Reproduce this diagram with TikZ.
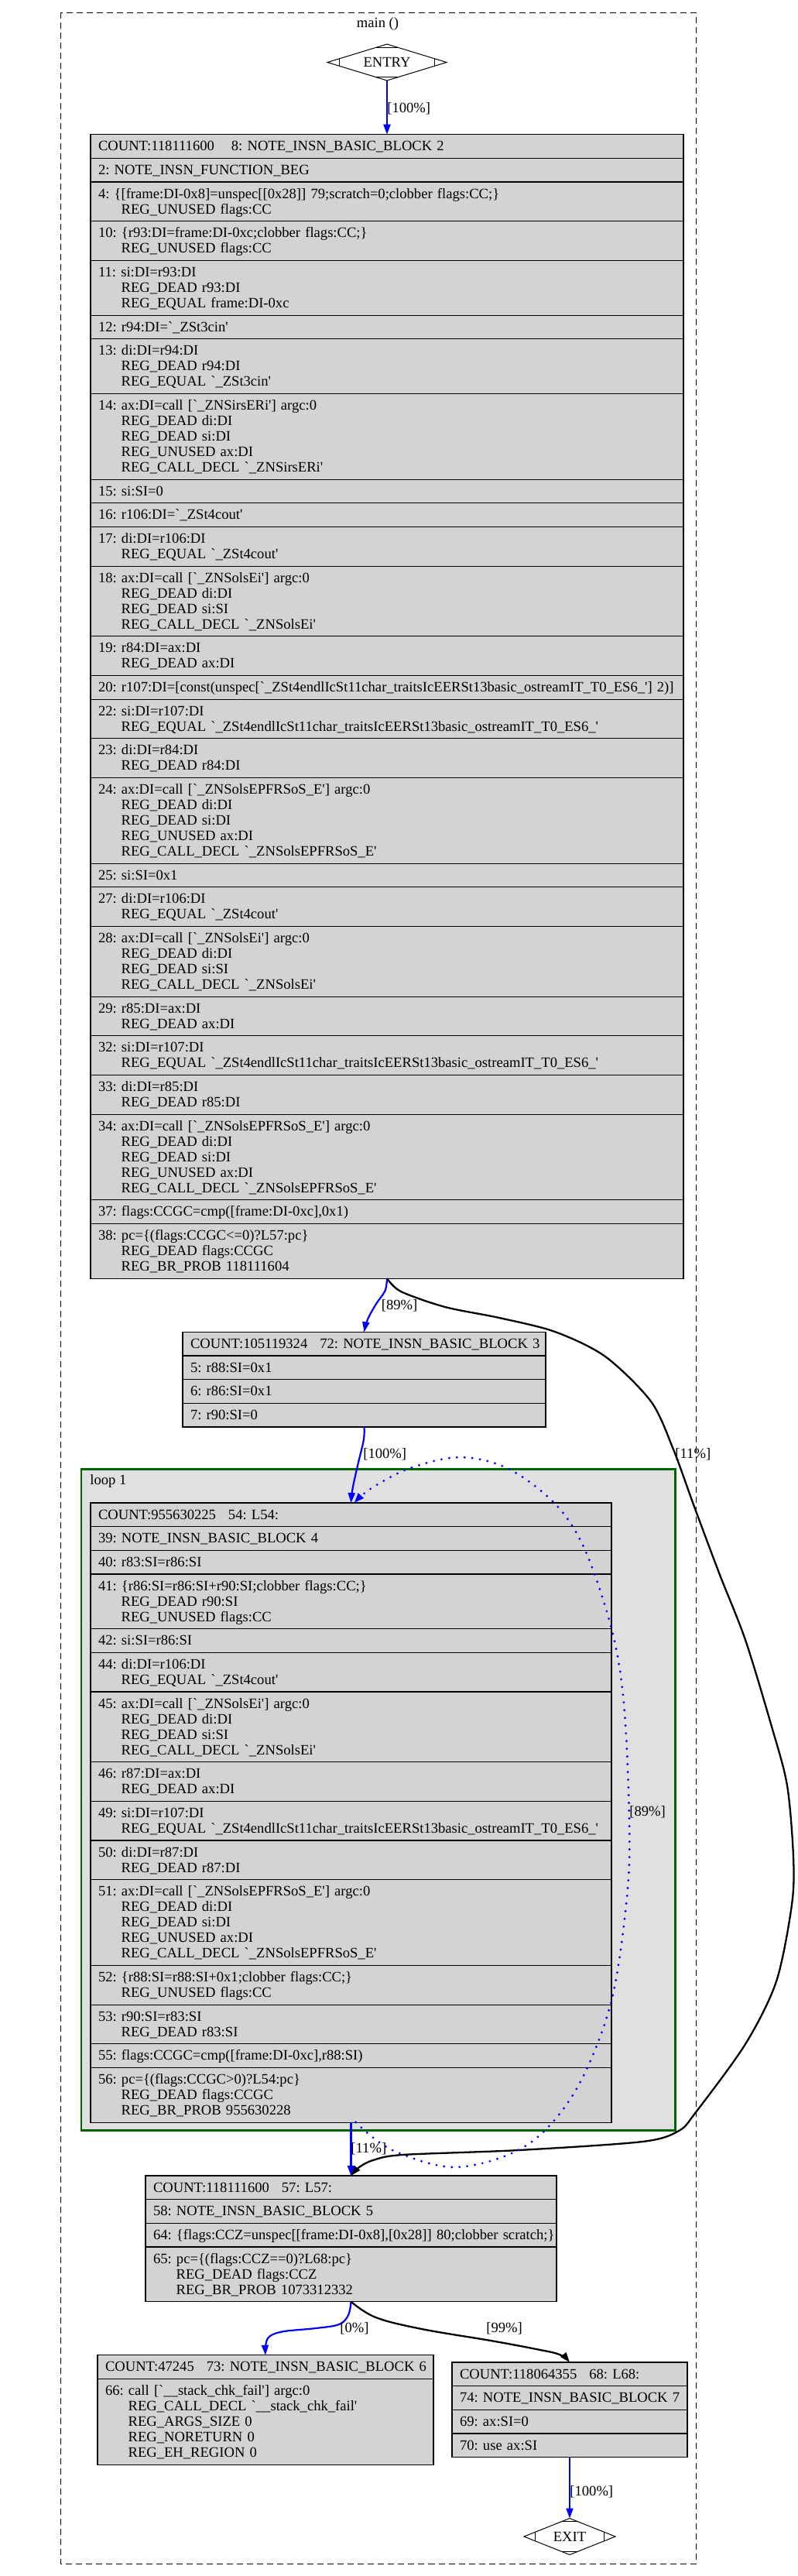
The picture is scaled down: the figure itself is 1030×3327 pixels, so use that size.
\documentclass[tikz,border=0pt]{standalone}
\usepackage{fontspec}
\setmainfont{Liberation Serif}[Ligatures=TeXOff]
\usetikzlibrary{shapes.geometric,arrows.meta,calc}
\definecolor{recgray}{HTML}{D3D3D3}
\definecolor{loopgray}{HTML}{E0E0E0}
\definecolor{loopgreen}{HTML}{006400}
\definecolor{edgeblue}{HTML}{0000FF}
\newcommand\gvfont{\fontsize{9.3}{10}\selectfont\frenchspacing}
\newcommand\gvstrut{\rule[-2.125pt]{0pt}{10pt}}
\newcommand\Lf[1]{\gvstrut\mbox{#1}}
\newcommand\Lm[1]{\\\gvstrut\hspace*{14.8pt}\mbox{#1}}
\tikzset{
  row/.style={draw=black, fill=recgray, line width=0.55pt, inner xsep=5pt, inner ysep=2.667pt, outer sep=0pt, align=left, anchor=north, font=\gvfont},
  wB/.style={text width=373pt}, wC/.style={text width=224.5pt}, wD/.style={text width=326.5pt},
  wE/.style={text width=255.5pt}, wF/.style={text width=207pt}, wG/.style={text width=142pt},
  tip/.style={-{Triangle[length=6.5pt,width=4.5pt]}},
  bedge/.style={draw=edgeblue, line width=1.1pt, tip},
  kedge/.style={draw=black, line width=1.15pt, tip},
  dedge/.style={draw=edgeblue, line width=1.6pt, dash pattern=on 0pt off 5pt, line cap=round, tip},
  lbl/.style={font=\gvfont, inner sep=0pt, anchor=west},
  dia/.style={diamond, draw=black, line width=0.5pt, aspect=3.3, inner sep=0pt, outer sep=0pt, font=\gvfont, minimum height=23.5pt},
  ticks/.style={draw=black, line width=0.5pt},
}
\begin{document}
\begin{tikzpicture}[x=0.5pt,y=-0.5pt]
\path[use as bounding box, fill=white] (0,0) rectangle (1030,3327);
% outer cluster
\draw[black, line width=0.5pt, dash pattern=on 4pt off 2.5pt] (78.5,16) rectangle (899,3311);
\node[font=\gvfont, inner sep=0pt] (mainlbl) at (488,31) {main ()};
% loop cluster
\draw[fill=loopgray, draw=loopgreen, line width=1.25pt] (105,1897.7) rectangle (872.5,2751.7);
\node[lbl] (looplbl) at (116,1913) {loop 1};

% ENTRY / EXIT
\node[dia, minimum width=77pt] (entry) at (500,80.5) {ENTRY};
\node[dia, minimum width=59pt] (exit) at (736,3276) {EXIT};
\foreach \n/\fh in {entry/0.195, exit/0.25} {
  \draw[ticks] ($(\n.north)!0.18!(\n.west)$) -- ($(\n.north)!0.18!(\n.east)$);
  \draw[ticks] ($(\n.south)!0.18!(\n.west)$) -- ($(\n.south)!0.18!(\n.east)$);
  \draw[ticks] ($(\n.west)!\fh!(\n.north)$) -- ($(\n.west)!\fh!(\n.south)$);
  \draw[ticks] ($(\n.east)!\fh!(\n.north)$) -- ($(\n.east)!\fh!(\n.south)$);
}

% block 2
\node[row,wB] (b2r1) at (500,173.7) {\Lf{COUNT:118111600\hspace{11pt}8: NOTE\_INSN\_BASIC\_BLOCK 2}};
\node[row,wB] (b2r2) at (b2r1.south) {\Lf{2: NOTE\_INSN\_FUNCTION\_BEG}};
\node[row,wB] (b2r3) at (b2r2.south) {\Lf{4: \{[frame:DI-0x8]=unspec[[0x28]] 79;scratch=0;clobber flags:CC;\}}\Lm{REG\_UNUSED flags:CC}};
\node[row,wB] (b2r4) at (b2r3.south) {\Lf{10: \{r93:DI=frame:DI-0xc;clobber flags:CC;\}}\Lm{REG\_UNUSED flags:CC}};
\node[row,wB] (b2r5) at (b2r4.south) {\Lf{11: si:DI=r93:DI}\Lm{REG\_DEAD r93:DI}\Lm{REG\_EQUAL frame:DI-0xc}};
\node[row,wB] (b2r6) at (b2r5.south) {\Lf{12: r94:DI=`\_ZSt3cin'}};
\node[row,wB] (b2r7) at (b2r6.south) {\Lf{13: di:DI=r94:DI}\Lm{REG\_DEAD r94:DI}\Lm{REG\_EQUAL `\_ZSt3cin'}};
\node[row,wB] (b2r8) at (b2r7.south) {\Lf{14: ax:DI=call [`\_ZNSirsERi'] argc:0}\Lm{REG\_DEAD di:DI}\Lm{REG\_DEAD si:DI}\Lm{REG\_UNUSED ax:DI}\Lm{REG\_CALL\_DECL `\_ZNSirsERi'}};
\node[row,wB] (b2r9) at (b2r8.south) {\Lf{15: si:SI=0}};
\node[row,wB] (b2r10) at (b2r9.south) {\Lf{16: r106:DI=`\_ZSt4cout'}};
\node[row,wB] (b2r11) at (b2r10.south) {\Lf{17: di:DI=r106:DI}\Lm{REG\_EQUAL `\_ZSt4cout'}};
\node[row,wB] (b2r12) at (b2r11.south) {\Lf{18: ax:DI=call [`\_ZNSolsEi'] argc:0}\Lm{REG\_DEAD di:DI}\Lm{REG\_DEAD si:SI}\Lm{REG\_CALL\_DECL `\_ZNSolsEi'}};
\node[row,wB] (b2r13) at (b2r12.south) {\Lf{19: r84:DI=ax:DI}\Lm{REG\_DEAD ax:DI}};
\node[row,wB] (b2r14) at (b2r13.south) {\Lf{20: r107:DI=[const(unspec[`\_ZSt4endlIcSt11char\_traitsIcEERSt13basic\_ostreamIT\_T0\_ES6\_'] 2)]}};
\node[row,wB] (b2r15) at (b2r14.south) {\Lf{22: si:DI=r107:DI}\Lm{REG\_EQUAL `\_ZSt4endlIcSt11char\_traitsIcEERSt13basic\_ostreamIT\_T0\_ES6\_'}};
\node[row,wB] (b2r16) at (b2r15.south) {\Lf{23: di:DI=r84:DI}\Lm{REG\_DEAD r84:DI}};
\node[row,wB] (b2r17) at (b2r16.south) {\Lf{24: ax:DI=call [`\_ZNSolsEPFRSoS\_E'] argc:0}\Lm{REG\_DEAD di:DI}\Lm{REG\_DEAD si:DI}\Lm{REG\_UNUSED ax:DI}\Lm{REG\_CALL\_DECL `\_ZNSolsEPFRSoS\_E'}};
\node[row,wB] (b2r18) at (b2r17.south) {\Lf{25: si:SI=0x1}};
\node[row,wB] (b2r19) at (b2r18.south) {\Lf{27: di:DI=r106:DI}\Lm{REG\_EQUAL `\_ZSt4cout'}};
\node[row,wB] (b2r20) at (b2r19.south) {\Lf{28: ax:DI=call [`\_ZNSolsEi'] argc:0}\Lm{REG\_DEAD di:DI}\Lm{REG\_DEAD si:SI}\Lm{REG\_CALL\_DECL `\_ZNSolsEi'}};
\node[row,wB] (b2r21) at (b2r20.south) {\Lf{29: r85:DI=ax:DI}\Lm{REG\_DEAD ax:DI}};
\node[row,wB] (b2r22) at (b2r21.south) {\Lf{32: si:DI=r107:DI}\Lm{REG\_EQUAL `\_ZSt4endlIcSt11char\_traitsIcEERSt13basic\_ostreamIT\_T0\_ES6\_'}};
\node[row,wB] (b2r23) at (b2r22.south) {\Lf{33: di:DI=r85:DI}\Lm{REG\_DEAD r85:DI}};
\node[row,wB] (b2r24) at (b2r23.south) {\Lf{34: ax:DI=call [`\_ZNSolsEPFRSoS\_E'] argc:0}\Lm{REG\_DEAD di:DI}\Lm{REG\_DEAD si:DI}\Lm{REG\_UNUSED ax:DI}\Lm{REG\_CALL\_DECL `\_ZNSolsEPFRSoS\_E'}};
\node[row,wB] (b2r25) at (b2r24.south) {\Lf{37: flags:CCGC=cmp([frame:DI-0xc],0x1)}};
\node[row,wB] (b2r26) at (b2r25.south) {\Lf{38: pc=\{(flags:CCGC<=0)?L57:pc\}}\Lm{REG\_DEAD flags:CCGC}\Lm{REG\_BR\_PROB 118111604}};

% block 3
\node[row,wC] (b3r1) at (470.5,1720.3) {\Lf{COUNT:105119324\hspace{8pt}72: NOTE\_INSN\_BASIC\_BLOCK 3}};
\node[row,wC] (b3r2) at (b3r1.south) {\Lf{5: r88:SI=0x1}};
\node[row,wC] (b3r3) at (b3r2.south) {\Lf{6: r86:SI=0x1}};
\node[row,wC] (b3r4) at (b3r3.south) {\Lf{7: r90:SI=0}};

% block 4
\node[row,wD] (b4r1) at (453.5,1941) {\Lf{COUNT:955630225\hspace{8pt}54: L54:}};
\node[row,wD] (b4r2) at (b4r1.south) {\Lf{39: NOTE\_INSN\_BASIC\_BLOCK 4}};
\node[row,wD] (b4r3) at (b4r2.south) {\Lf{40: r83:SI=r86:SI}};
\node[row,wD] (b4r4) at (b4r3.south) {\Lf{41: \{r86:SI=r86:SI+r90:SI;clobber flags:CC;\}}\Lm{REG\_DEAD r90:SI}\Lm{REG\_UNUSED flags:CC}};
\node[row,wD] (b4r5) at (b4r4.south) {\Lf{42: si:SI=r86:SI}};
\node[row,wD] (b4r6) at (b4r5.south) {\Lf{44: di:DI=r106:DI}\Lm{REG\_EQUAL `\_ZSt4cout'}};
\node[row,wD] (b4r7) at (b4r6.south) {\Lf{45: ax:DI=call [`\_ZNSolsEi'] argc:0}\Lm{REG\_DEAD di:DI}\Lm{REG\_DEAD si:SI}\Lm{REG\_CALL\_DECL `\_ZNSolsEi'}};
\node[row,wD] (b4r8) at (b4r7.south) {\Lf{46: r87:DI=ax:DI}\Lm{REG\_DEAD ax:DI}};
\node[row,wD] (b4r9) at (b4r8.south) {\Lf{49: si:DI=r107:DI}\Lm{REG\_EQUAL `\_ZSt4endlIcSt11char\_traitsIcEERSt13basic\_ostreamIT\_T0\_ES6\_'}};
\node[row,wD] (b4r10) at (b4r9.south) {\Lf{50: di:DI=r87:DI}\Lm{REG\_DEAD r87:DI}};
\node[row,wD] (b4r11) at (b4r10.south) {\Lf{51: ax:DI=call [`\_ZNSolsEPFRSoS\_E'] argc:0}\Lm{REG\_DEAD di:DI}\Lm{REG\_DEAD si:DI}\Lm{REG\_UNUSED ax:DI}\Lm{REG\_CALL\_DECL `\_ZNSolsEPFRSoS\_E'}};
\node[row,wD] (b4r12) at (b4r11.south) {\Lf{52: \{r88:SI=r88:SI+0x1;clobber flags:CC;\}}\Lm{REG\_UNUSED flags:CC}};
\node[row,wD] (b4r13) at (b4r12.south) {\Lf{53: r90:SI=r83:SI}\Lm{REG\_DEAD r83:SI}};
\node[row,wD] (b4r14) at (b4r13.south) {\Lf{55: flags:CCGC=cmp([frame:DI-0xc],r88:SI)}};
\node[row,wD] (b4r15) at (b4r14.south) {\Lf{56: pc=\{(flags:CCGC>0)?L54:pc\}}\Lm{REG\_DEAD flags:CCGC}\Lm{REG\_BR\_PROB 955630228}};

% block 5
\node[row,wE] (b5r1) at (453.5,2810) {\Lf{COUNT:118111600\hspace{8pt}57: L57:}};
\node[row,wE] (b5r2) at (b5r1.south) {\Lf{58: NOTE\_INSN\_BASIC\_BLOCK 5}};
\node[row,wE] (b5r3) at (b5r2.south) {\Lf{64: \{flags:CCZ=unspec[[frame:DI-0x8],[0x28]] 80;clobber scratch;\}}};
\node[row,wE] (b5r4) at (b5r3.south) {\Lf{65: pc=\{(flags:CCZ==0)?L68:pc\}}\Lm{REG\_DEAD flags:CCZ}\Lm{REG\_BR\_PROB 1073312332}};

% block 6
\node[row,wF] (b6r1) at (343,3041.7) {\Lf{COUNT:47245\hspace{8pt}73: NOTE\_INSN\_BASIC\_BLOCK 6}};
\node[row,wF] (b6r2) at (b6r1.south) {\Lf{66: call [`\_\_stack\_chk\_fail'] argc:0}\Lm{REG\_CALL\_DECL `\_\_stack\_chk\_fail'}\Lm{REG\_ARGS\_SIZE 0}\Lm{REG\_NORETURN 0}\Lm{REG\_EH\_REGION 0}};

% block 7
\node[row,wG] (b7r1) at (736,3051) {\Lf{COUNT:118064355\hspace{8pt}68: L68:}};
\node[row,wG] (b7r2) at (b7r1.south) {\Lf{74: NOTE\_INSN\_BASIC\_BLOCK 7}};
\node[row,wG] (b7r3) at (b7r2.south) {\Lf{69: ax:SI=0}};
\node[row,wG] (b7r4) at (b7r3.south) {\Lf{70: use ax:SI}};

% edges
\draw[bedge] (entry.south) -- (b2r1.north);
\draw[bedge] plot[smooth, tension=0.6] coordinates {(b2r26.south) (497.5,1667) (486,1684) (475,1704) (b3r1.north)};
\draw[kedge] plot[smooth, tension=0.5] coordinates {(b2r26.south) (518,1668) (575,1688) (645,1702) (717,1720) (782,1752) (841,1810) (870,1872) (897,1946) (930,2034) (963,2118) (997,2230) (1017,2306) (1025,2398) (1023,2460) (1003,2559) (963,2640) (899,2728) (877,2752) (830,2766) (670,2777) (520,2783) (482,2790) (464,2799) (b5r1.north)};
\draw[bedge] plot[smooth, tension=0.6] coordinates {(b3r4.south) (469.8,1860) (462,1893) (455.5,1923) (b4r1.north)};
\draw[dedge] plot[smooth, tension=0.55] coordinates {([xshift=3pt]b4r15.south) (507,2777) (590,2799) (680,2771) (743,2701) (789,2588) (810,2450) (813,2350) (806,2200) (790,2103) (755,2000) (717,1942) (657,1897) (595,1882) (530,1896) (480,1922) ([xshift=2pt]b4r1.north)};
\draw[bedge] (b4r15.south) -- (b5r1.north);
\draw[bedge] plot[smooth, tension=0.6] coordinates {(b5r4.south) (450,2990) (438,3002) (408,3007) (367,3011) (349,3017) (343.5,3027) (b6r1.north)};
\draw[kedge] plot[smooth, tension=0.6] coordinates {(b5r4.south) (485.5,2993) (545,3008) (634,3023) (693,3034) (723,3041) (b7r1.north)};
\draw[bedge] (b7r4.south) -- (exit.north);

% edge labels
\node[lbl] (l1) at (500,140) {[100\%]};
\node[lbl] (l2) at (492.5,1686) {[89\%]};
\node[lbl] (l3) at (872,1878) {[11\%]};
\node[lbl] (l4) at (469,1878) {[100\%]};
\node[lbl] (l5) at (813,2340) {[89\%]};
\node[lbl] (l6) at (453,2775) {[11\%]};
\node[lbl] (l7) at (439,3007) {[0\%]};
\node[lbl] (l8) at (628,3007) {[99\%]};
\node[lbl] (l9) at (736,3218) {[100\%]};
\end{tikzpicture}
\end{document}
